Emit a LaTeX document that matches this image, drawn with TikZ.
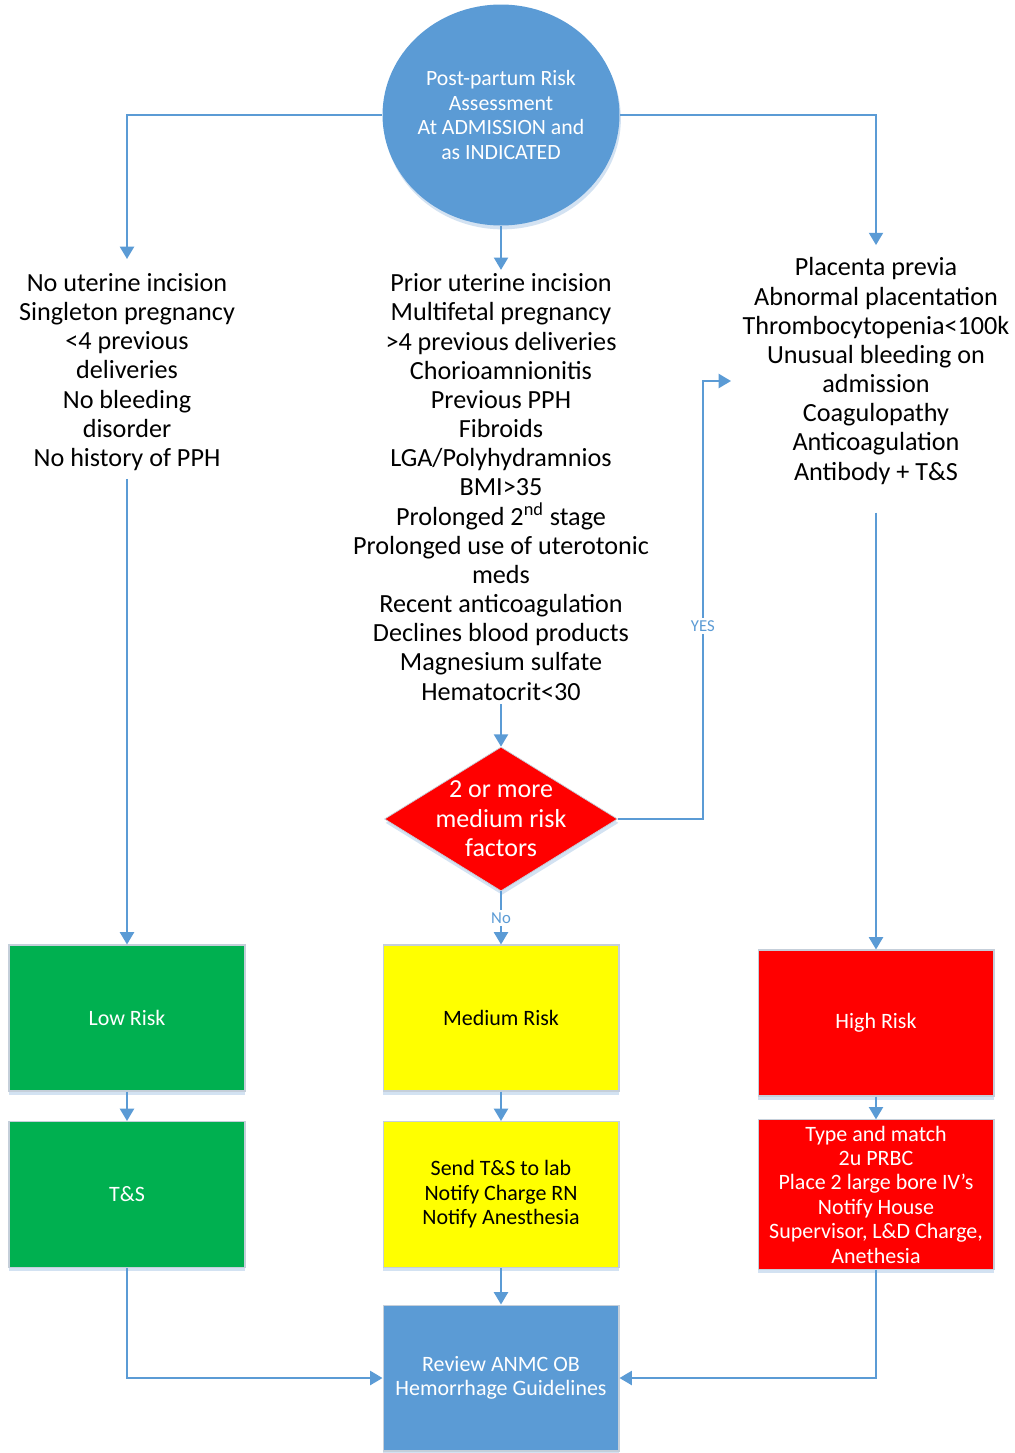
\documentclass[tikz,border=0pt]{standalone}
\usepackage{fontspec}
\setmainfont{Carlito}
\usetikzlibrary{arrows.meta,shapes.geometric,shadows}

\definecolor{flowblue}{HTML}{5B9BD5}
\definecolor{shadeblue}{HTML}{D3E2F2}
\definecolor{boxline}{HTML}{C5CFDA}
\definecolor{riskgreen}{HTML}{00B050}
\definecolor{riskyellow}{HTML}{FFFF00}
\definecolor{riskred}{HTML}{FF0000}

\begin{document}
\begin{tikzpicture}[x=0.02cm,y=-0.02cm,
    flow/.style={draw=flowblue,line width=1.1pt,-{Triangle[width=8pt,length=7pt]}},
    criteria/.style={align=center,inner sep=0pt,font=\fontsize{14.9}{16.6}\selectfont},
    riskbox/.style={rectangle,draw=boxline,line width=0.6pt,minimum width=4.72cm,
      minimum height=2.92cm,align=center,font=\fontsize{12.5}{13.9}\selectfont,
      drop shadow={shadow xshift=0pt,shadow yshift=-2.2pt,fill=shadeblue,opacity=1}},
    decision/.style={diamond,fill=riskred,draw=boxline,line width=0.4pt,
      minimum width=4.66cm,minimum height=2.88cm,inner sep=0pt,
      drop shadow={shadow xshift=0.6pt,shadow yshift=-2.2pt,fill=shadeblue,opacity=1}},
    yesno/.style={fill=white,text=flowblue,inner sep=1.5pt,font=\fontsize{9.5}{11}\selectfont}]

\useasboundingbox (0,0) rectangle (1014,1453);

% start of the assessment
\node[ellipse,fill=flowblue,minimum width=4.74cm,minimum height=4.42cm,inner sep=0pt,
  align=center,text=white,font=\fontsize{12.4}{13.9}\selectfont,
  drop shadow={shadow xshift=0.8pt,shadow yshift=-2.2pt,fill=shadeblue,opacity=1}]
  (start) at (501,115) {Post-partum Risk\\Assessment\\At ADMISSION and\\as INDICATED};

% the three lists of factors
\node[criteria] (lowtxt) at (127,372) {No uterine incision\\Singleton pregnancy\\<4 previous\\deliveries\\No bleeding\\disorder\\No history of PPH};
\node[criteria] (medtxt) at (501,487) {Prior uterine incision\\Multifetal pregnancy\\>4 previous deliveries\\Chorioamnionitis\\Previous PPH\\Fibroids\\LGA/Polyhydramnios\\BMI>35\\Prolonged 2\textsuperscript{nd} stage\\Prolonged use of uterotonic\\meds\\Recent anticoagulation\\Declines blood products\\Magnesium sulfate\\Hematocrit<30};
\node[criteria] (hightxt) at (876,371) {Placenta previa\\Abnormal placentation\\Thrombocytopenia<100k\\Unusual bleeding on\\admission\\Coagulopathy\\Anticoagulation\\Antibody + T\&S};

% decision
\node[decision,label={[align=center,text=white,font=\fontsize{14.8}{16.8}\selectfont]center:{2 or more\\medium risk\\factors}}] (dia) at (501,819) {};
\coordinate (yesend) at (731,381);

% risk boxes
\node[riskbox,fill=riskgreen,text=white] (lowbox) at (127,1018) {Low Risk};
\node[riskbox,fill=riskgreen,text=white] (lowts) at (127,1194.5) {T\&S};
\node[riskbox,fill=riskyellow] (medbox) at (501,1018) {Medium Risk};
\node[riskbox,fill=riskyellow] (medts) at (501,1194.5) {Send T\&S to lab\\Notify Charge RN\\Notify Anesthesia};
\node[riskbox,fill=riskred,text=white] (highbox) at (876,1023) {High Risk};
\node[riskbox,fill=riskred,text=white] (hights) at (876,1194.5) {Type and match\\2u PRBC\\Place 2 large bore IV’s\\Notify House\\Supervisor, L\&D Charge,\\Anethesia};
\node[riskbox,fill=flowblue,text=white] (review) at (501,1378) {Review ANMC OB\\Hemorrhage Guidelines};

% From the circle: to the three lists
\draw[flow,shorten >=8pt] (start.west) -| (lowtxt.north);
\draw[flow,shorten >=2pt] (start.south) -- (medtxt.north);
\draw[flow,shorten >=7pt] (start.east) -| (hightxt.north);

% From the lists: down to the boxes
\draw[flow,shorten <=4.5pt] (lowtxt.south) -- (lowbox.north);
\draw[flow,shorten <=2pt] (medtxt.south) -- (dia.north);
\draw[flow,shorten <=16pt] (hightxt.south) -- (highbox.north);

% From the decision: yes and no
\draw[flow] (dia.east) -- ++(85,0) |- (yesend) node[yesno,pos=0.22] {YES};
\draw[flow] (dia.south) -- (medbox.north) node[yesno,midway] {No};

% From the boxes: to the guidelines
\draw[flow] (lowbox) -- (lowts);
\draw[flow] (medbox) -- (medts);
\draw[flow] (highbox) -- (hights);
\draw[flow] (lowts.south) |- (review.west);
\draw[flow] (medts) -- (review);
\draw[flow] (hights.south) |- (review.east);

\end{tikzpicture}
\end{document}
